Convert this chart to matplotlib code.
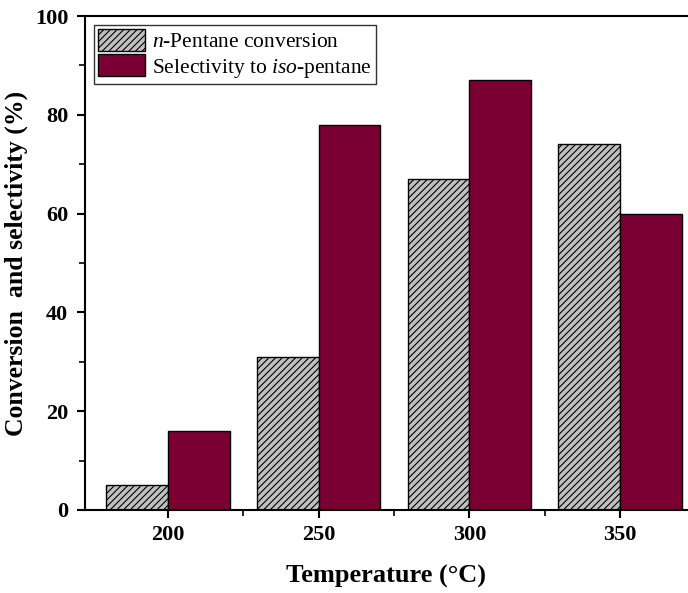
import matplotlib
matplotlib.use('Agg')
import matplotlib.pyplot as plt
import numpy as np
from matplotlib.ticker import MultipleLocator, FixedLocator

plt.rcParams['font.family'] = 'Liberation Serif'
plt.rcParams['mathtext.fontset'] = 'custom'
plt.rcParams['mathtext.rm'] = 'Liberation Serif'
plt.rcParams['mathtext.it'] = 'Liberation Serif:italic'
plt.rcParams['hatch.linewidth'] = 0.8

temps = ['200', '250', '300', '350']
conversion = [5, 31, 67, 74]
selectivity = [16, 78, 87, 60]

x = np.arange(len(temps))
w = 0.41

fig = plt.figure(figsize=(6.88, 5.93), dpi=100)
ax = fig.add_axes([0.1235, 0.14, 0.8765, 0.833])

ax.bar(x - w / 2, conversion, w, color='#c0c0c0', edgecolor='black',
       hatch='/////', linewidth=1.0, label='$n$-Pentane conversion')
ax.bar(x + w / 2, selectivity, w, color='#7a0034', edgecolor='black',
       linewidth=1.0, label='Selectivity to $iso$-pentane')

ax.set_xlim(-0.55, 3.45)
ax.set_ylim(0, 100)
ax.set_xticks(x)
ax.set_xticklabels(temps)
ax.xaxis.set_minor_locator(FixedLocator(x[:-1] + 0.5))
ax.yaxis.set_major_locator(MultipleLocator(20))
ax.yaxis.set_minor_locator(MultipleLocator(10))

ax.spines['right'].set_visible(False)
for s in ['left', 'bottom', 'top']:
    ax.spines[s].set_linewidth(1.5)

ax.tick_params(which='major', direction='out', length=6, width=1.5,
               labelsize=16)
ax.tick_params(which='minor', direction='out', length=4, width=1.2)
for lbl in ax.get_xticklabels() + ax.get_yticklabels():
    lbl.set_fontweight('bold')
ax.tick_params(axis='x', pad=5)
ax.tick_params(axis='y', pad=6)

ax.set_xlabel('Temperature (°C)', fontsize=19, fontweight='bold', labelpad=14)
ax.set_ylabel('Conversion  and selectivity (%)', fontsize=18.5,
              fontweight='bold', labelpad=5)

leg = ax.legend(loc='upper left', fontsize=15.5, frameon=True, fancybox=False,
                edgecolor='black', handlelength=2.2, handleheight=1.2,
                handletextpad=0.3, borderpad=0.2, labelspacing=0.1,
                borderaxespad=0.4)
leg.get_frame().set_linewidth(1.0)

fig.savefig('out.png', dpi=100)
